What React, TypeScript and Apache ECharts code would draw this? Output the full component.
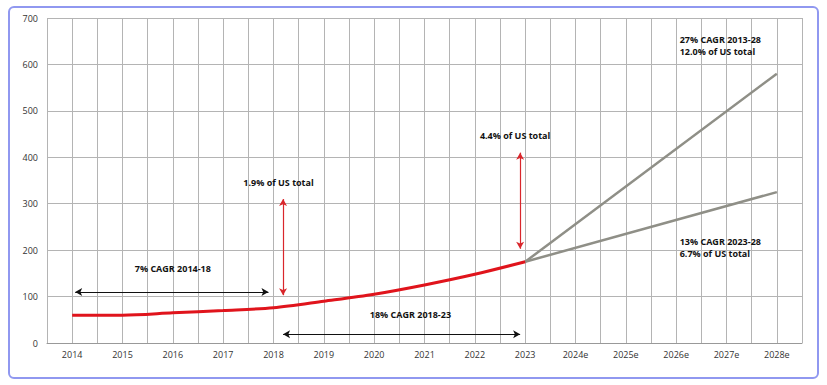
import React, { useEffect, useRef } from "react";
import * as echarts from "echarts";

const categories = ["2014", "2015", "2016", "2017", "2018", "2019", "2020", "2021", "2022", "2023", "2024e", "2025e", "2026e", "2027e", "2028e"];
const actualValues = [60, 60, 65, 70, 76, 90, 105, 125, 148, 175];
const highForecast: [string, number][] = [["2023", 175], ["2028e", 580]];
const lowForecast: [string, number][] = [["2023", 175], ["2028e", 325]];
const yTicks = { min: 0, max: 700, step: 100 };

const FONT = "Open Sans";

export default function App() {
  const ref = useRef<HTMLDivElement>(null);
  useEffect(() => {
    if (!ref.current) return;
    const chart = echarts.init(ref.current, null, { renderer: "svg" });
    const idx = (c: string) => categories.indexOf(c);
    const blackArrow = { color: "#111", width: 1.2, type: "solid" as const };
    const redArrow = { color: "#d9262b", width: 1.2, type: "solid" as const };
    const txt = (coord: [number, number], text: string, align: string = "center") => ({
      coord,
      symbolSize: 0,
      label: {
        show: true,
        formatter: text,
        position: "inside",
        align,
        verticalAlign: "middle",
        color: "#111",
        fontFamily: FONT,
        fontSize: 9,
        fontWeight: "bold",
        lineHeight: 12,
      },
    });
    chart.setOption({
      animation: false,
      grid: { left: 47, right: 25, top: 18, bottom: 42 },
      xAxis: {
        type: "value",
        min: -0.5,
        max: 14.5,
        interval: 0.5,
        axisLine: { show: true, lineStyle: { color: "#999" } },
        axisTick: { show: false },
        splitLine: { show: true, lineStyle: { color: "#b4b4b4", width: 1 } },
        axisLabel: {
          color: "#333",
          fontFamily: FONT,
          fontSize: 9,
          margin: 7,
          showMinLabel: true,
          showMaxLabel: true,
          formatter: (v: number) => (Number.isInteger(v) && v >= 0 ? categories[v] : ""),
        },
      },
      yAxis: {
        type: "value",
        min: yTicks.min,
        max: yTicks.max,
        interval: yTicks.step,
        axisLine: { show: false },
        axisTick: { show: false },
        splitLine: { lineStyle: { color: "#b4b4b4", width: 1 } },
        axisLabel: { color: "#333", fontFamily: FONT, fontSize: 9, margin: 9 },
      },
      series: [
        {
          type: "line",
          data: highForecast.map(([c, v]) => [idx(c), v]),
          symbol: "none",
          lineStyle: { color: "#8f8f87", width: 2.5 },
          silent: true,
          z: 2,
        },
        {
          type: "line",
          data: lowForecast.map(([c, v]) => [idx(c), v]),
          symbol: "none",
          lineStyle: { color: "#8f8f87", width: 2.5 },
          silent: true,
          z: 2,
        },
        {
          type: "line",
          data: actualValues.map((v, i) => [i, v]),
          symbol: "none",
          smooth: 0.3,
          lineStyle: { color: "#e0141c", width: 3 },
          silent: true,
          z: 3,
        },
        {
          type: "line",
          data: [],
          silent: true,
          markLine: {
            silent: true,
            symbol: ["arrow", "arrow"],
            symbolSize: [6, 7],
            label: { show: false },
            emphasis: { disabled: true },
            data: [
              [{ coord: [0.06, 110], lineStyle: blackArrow }, { coord: [3.9, 110] }],
              [{ coord: [4.19, 19], lineStyle: blackArrow }, { coord: [8.9, 19] }],
              [{ coord: [4.19, 310], lineStyle: redArrow }, { coord: [4.19, 103] }],
              [{ coord: [8.9, 410], lineStyle: redArrow }, { coord: [8.9, 203] }],
            ],
          },
          markPoint: {
            silent: true,
            symbol: "circle",
            symbolSize: 0,
            itemStyle: { color: "transparent" },
            data: [
              txt([2.0, 161], "7% CAGR 2014-18"),
              txt([6.72, 62], "18% CAGR 2018-23"),
              txt([4.1, 345], "1.9% of US total"),
              txt([8.8, 446], "4.4% of US total"),
              txt([12.07, 640], "27% CAGR 2013-28\n12.0% of US total", "left"),
              txt([12.07, 205], "13% CAGR 2023-28\n6.7% of US total", "left"),
            ],
          },
        },
      ],
    });
    return () => chart.dispose();
  }, []);
  return (
    <div
      style={{
        position: "absolute",
        left: 8,
        top: 6,
        width: 811,
        height: 373,
        border: "2px solid #9098f0",
        borderRadius: 6,
        boxSizing: "border-box",
      }}
    >
      <div ref={ref} style={{ position: "absolute", left: -10, top: -8, width: 827, height: 385 }} />
    </div>
  );
}
